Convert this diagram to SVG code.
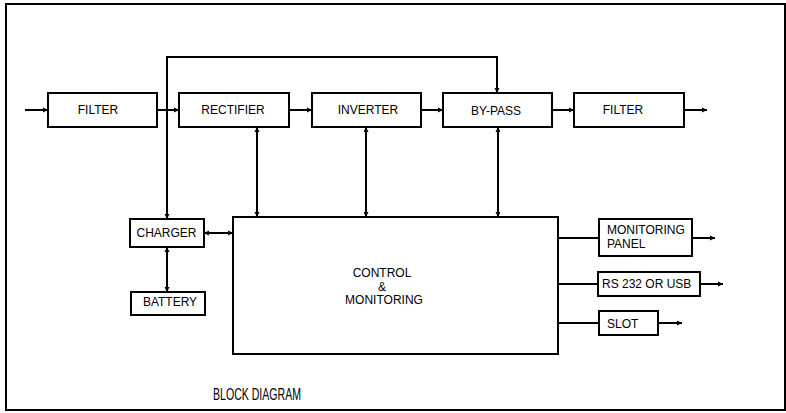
<svg xmlns="http://www.w3.org/2000/svg" width="786" height="413" viewBox="0 0 786 413">
<style>
.box{fill:#fff;stroke:#000;stroke-width:2}
.ln{fill:none;stroke:#000;stroke-width:2}
.t{font-family:"Liberation Sans",Arial,sans-serif;font-size:12px;fill:#000}
.c{text-anchor:middle}
</style>
<defs>
<marker id="a" markerUnits="userSpaceOnUse" markerWidth="8" markerHeight="8" refX="6" refY="4" orient="auto-start-reverse"><path d="M1,1.5 L6,4 L1,6.5 Z" fill="#000"/></marker>
</defs>
<rect x="6" y="4" width="779" height="406" fill="#fff" stroke="#000" stroke-width="2"/>
<g id="connectors">
<line class="ln" x1="25" y1="110" x2="48" y2="110" marker-end="url(#a)"/>
<line class="ln" x1="157" y1="110" x2="179" y2="110" marker-end="url(#a)"/>
<line class="ln" x1="289" y1="110" x2="312" y2="110" marker-end="url(#a)"/>
<line class="ln" x1="421" y1="110" x2="443" y2="110" marker-end="url(#a)"/>
<line class="ln" x1="552" y1="110" x2="574" y2="110" marker-end="url(#a)"/>
<line class="ln" x1="684" y1="110" x2="707" y2="110" marker-end="url(#a)"/>
<polyline class="ln" points="167,219 167,57 497,57 497,93" marker-start="url(#a)" marker-end="url(#a)"/>
<line class="ln" x1="257" y1="127" x2="257" y2="217" marker-start="url(#a)" marker-end="url(#a)"/>
<line class="ln" x1="366" y1="127" x2="366" y2="217" marker-start="url(#a)" marker-end="url(#a)"/>
<line class="ln" x1="498" y1="127" x2="498" y2="217" marker-start="url(#a)" marker-end="url(#a)"/>
<line class="ln" x1="204" y1="233" x2="233" y2="233" marker-start="url(#a)" marker-end="url(#a)"/>
<line class="ln" x1="167" y1="247" x2="167" y2="292" marker-start="url(#a)" marker-end="url(#a)"/>
<line class="ln" x1="558" y1="238" x2="599" y2="238"/>
<line class="ln" x1="692" y1="238" x2="715" y2="238" marker-end="url(#a)"/>
<line class="ln" x1="558" y1="284" x2="598" y2="284"/>
<line class="ln" x1="700" y1="284" x2="723" y2="284" marker-end="url(#a)"/>
<line class="ln" x1="558" y1="323" x2="599" y2="323"/>
<line class="ln" x1="658" y1="323" x2="682" y2="323" marker-end="url(#a)"/>
</g>
<g id="filter-in"><rect class="box" x="48" y="93" width="109" height="34"/><text class="t c" x="98" y="114">FILTER</text></g>
<g id="rectifier"><rect class="box" x="179" y="93" width="110" height="34"/><text class="t c" x="233" y="114">RECTIFIER</text></g>
<g id="inverter"><rect class="box" x="312" y="93" width="109" height="34"/><text class="t c" x="368" y="114">INVERTER</text></g>
<g id="bypass"><rect class="box" x="443" y="93" width="109" height="34"/><text class="t c" x="496" y="115">BY-PASS</text></g>
<g id="filter-out"><rect class="box" x="574" y="93" width="110" height="34"/><text class="t c" x="623" y="114">FILTER</text></g>
<g id="charger"><rect class="box" x="130" y="219" width="74" height="28"/><text class="t c" x="166.5" y="237">CHARGER</text></g>
<g id="battery"><rect class="box" x="131" y="292" width="74" height="23"/><text class="t c" x="170" y="306">BATTERY</text></g>
<g id="control"><rect class="box" x="233" y="217" width="325" height="137"/><text class="t c" x="382" y="277">CONTROL</text><text class="t c" x="382" y="291">&amp;</text><text class="t c" x="384" y="304">MONITORING</text></g>
<g id="monitoring-panel"><rect class="box" x="599" y="219" width="93" height="37"/><text class="t" x="607" y="234">MONITORING</text><text class="t" x="607" y="248">PANEL</text></g>
<g id="rs232"><rect class="box" x="598" y="272" width="102" height="24"/><text class="t" x="602" y="288">RS 232 OR USB</text></g>
<g id="slot"><rect class="box" x="599" y="311" width="59" height="24"/><text class="t" x="607" y="328">SLOT</text></g>
<text x="213" y="400" style="font-family:'Liberation Sans',Arial,sans-serif;font-size:16px;fill:#000" textLength="88" lengthAdjust="spacingAndGlyphs">BLOCK DIAGRAM</text>
</svg>
